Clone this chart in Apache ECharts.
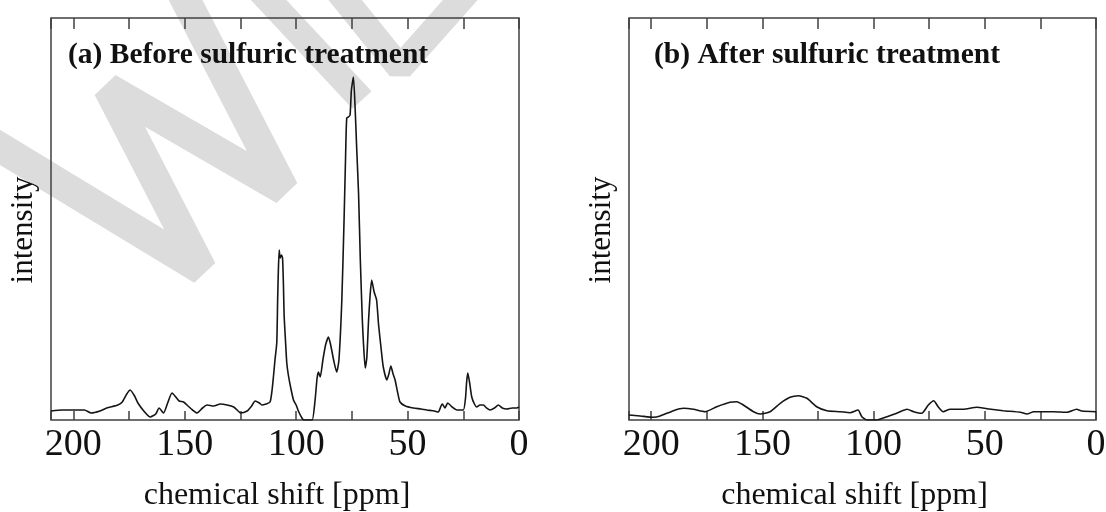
<!DOCTYPE html>
<html>
<head>
<meta charset="utf-8">
<script src="https://cdn.jsdelivr.net/npm/echarts@6/dist/echarts.min.js"></script>
<style>
  html, body { margin: 0; padding: 0; background: #fff; }
  #chart { width: 1106px; height: 512px; }
</style>
</head>
<body>
<div id="chart"></div>
<script>
// chemical shift (ppm) and intensity (arbitrary units)
var ppmBefore = [210, 205, 200, 195, 192, 188, 185, 180, 178, 176, 174.5, 172.5, 171, 168, 165.5, 163, 161.5, 159.5,
  157.5, 155.7, 154, 152.5, 150.5, 148.5, 146.5, 144.5, 142, 140, 137, 134, 131, 128, 126, 125, 122, 120, 118.4,
  116.5, 115.4, 113.5, 111.7, 110.8, 110.2, 109.5, 108.7, 108.3, 108, 107.6, 107.2, 106.6, 106.1, 105.7, 105.4,
  104.8, 104.2, 103.5, 102.5, 101.2, 100, 99, 97.4, 96.5, 94.5, 92.8, 91.5, 90.6, 90, 89.2, 88, 86.8, 85.5, 84.5,
  83, 81.8, 80.8, 79.5, 78.5, 77.8, 77.3, 76.5, 75.8, 75.2, 74.3, 73.5, 72.8, 72, 71.2, 70.3, 69.8, 69, 68.3, 67.5,
  66.8, 66.1, 65, 63.9, 63, 61.8, 60.9, 59.3, 58.4, 57.5, 56.5, 55.6, 54.5, 53.4, 51, 47.4, 44, 41.4, 38, 36.2, 35,
  34.4, 33.2, 32, 30, 27.9, 25, 24, 23.5, 23, 22.2, 21.2, 20, 19, 17.5, 16, 14.5, 13, 11, 9.3, 7.5, 5.5, 3, 1, 0];
var intensityBefore = [9, 10, 10, 10, 7, 9, 12, 15, 18, 26, 30, 24, 17, 8, 3, 6, 12, 7,
  18, 27, 23, 19, 18, 14, 10, 7, 12, 15, 14, 16, 15, 13, 9, 7, 9, 14, 19,
  17, 15, 16, 18, 30, 43, 60, 77, 120, 148, 170, 162, 165, 162, 135, 105,
  80, 57, 45, 33, 20, 15, 9, 2, 0, 0, 0, 20, 42, 48, 43, 60, 75, 83, 75,
  58, 48, 60, 120, 200, 265, 302, 303, 305, 330, 343, 310, 270, 227, 160, 100, 77, 52, 62, 100,
  125, 140, 128, 120, 95, 70, 53, 40, 46, 54, 46, 40, 28, 18, 14, 12, 11, 10, 9, 8, 14,
  16, 12, 17, 13, 10, 10, 22, 38, 47, 38, 23, 16, 13, 15, 15, 12, 10, 12, 15, 12, 11, 12, 12, 13];

var ppmAfter = [210, 205, 199, 196, 190, 185.5, 181, 175.8, 170.5, 164.6, 161.5, 158.6, 154, 151, 146.6, 142,
  137.6, 133.8, 130, 125.6, 121, 115, 110.6, 107, 105.3, 103, 98.6, 94, 89.6, 85, 82, 78.4, 75.4, 73, 71, 68.7,
  65.6, 59.7, 53.6, 49, 41.7, 34, 31, 28, 19, 13, 8.7, 6.4, 0];
var intensityAfter = [5, 4, 2.7, 4, 9.3, 11.7, 10.7, 8.3, 13.3, 17.7, 18.3, 15, 8.3, 6, 8.3, 16.7,
  22.7, 24.3, 21.7, 13.3, 9.3, 8.3, 7.3, 10, 3.3, 0, 0, 3.3, 6.7, 10.7, 8.3, 6.7, 15, 19.3, 13.3, 8.3,
  10.7, 10.7, 12.7, 11.3, 9.3, 7.7, 6, 8.3, 8.3, 7.7, 10.7, 9, 8.3];

var tickLabels = [200, 150, 100, 50, 0];
var panelTitles = ['(a) Before sulfuric treatment', '(b) After sulfuric treatment'];

(function () {
  var chart = echarts.init(document.getElementById('chart'));
  var serif = 'Liberation Serif, Times New Roman, serif';
  var frame = '#404040';

  function pairs(xs, ys) {
    return xs.map(function (x, i) { return [x, ys[i]]; });
  }

  function xAxisFor(grid, top) {
    return {
      type: 'value', gridIndex: grid, position: top ? 'top' : 'bottom',
      min: 0, max: 210, interval: 25, inverse: true,
      axisLine: { show: false },
      axisTick: { show: true, inside: true, length: top ? 11 : 9, lineStyle: { color: frame, width: 1.5 } },
      splitLine: { show: false },
      axisLabel: top ? { show: false } : {
        show: true, margin: 6, fontFamily: serif, fontSize: 38, color: '#111',
        formatter: function (v) { return tickLabels.indexOf(v) >= 0 ? String(v) : ''; }
      },
      name: top ? '' : 'chemical shift [ppm]',
      nameLocation: 'middle', nameGap: 60,
      nameTextStyle: { fontFamily: serif, fontSize: 32, color: '#111', padding: [0, 16, 0, 0] }
    };
  }

  function yAxisFor(grid) {
    return {
      type: 'value', gridIndex: grid, min: 0, max: 402,
      axisLine: { show: false }, axisTick: { show: false },
      axisLabel: { show: false }, splitLine: { show: false },
      name: 'intensity', nameLocation: 'middle', nameGap: 12,
      nameTextStyle: { fontFamily: serif, fontSize: 31, color: '#111', padding: [0, 22, 0, 0] }
    };
  }

  function wm(points, width) {
    return {
      type: 'polyline', z: 0, silent: true,
      shape: { points: points },
      style: { stroke: '#dcdcdc', lineWidth: width, lineJoin: 'bevel', fill: null }
    };
  }

  var lineStyle = { color: '#151515', width: 1.6 };
  var titleStyle = { fontFamily: serif, fontWeight: 'bold', fontSize: 29.5, color: '#111' };

  chart.setOption({
    animation: false,
    backgroundColor: '#fff',
    title: [
      { text: panelTitles[0], left: 63, top: 35, textStyle: titleStyle },
      { text: panelTitles[1], left: 649, top: 35, textStyle: titleStyle }
    ],
    grid: [
      { left: 51, right: 587, top: 18, bottom: 92, outerBoundsMode: 'none', containLabel: false,
        show: true, borderColor: frame, borderWidth: 1.5, z: 3 },
      { left: 629, right: 10, top: 18, bottom: 92, outerBoundsMode: 'none', containLabel: false,
        show: true, borderColor: frame, borderWidth: 1.5, z: 3 }
    ],
    xAxis: [xAxisFor(0, false), xAxisFor(0, true), xAxisFor(1, false), xAxisFor(1, true)],
    yAxis: [yAxisFor(0), yAxisFor(1)],
    graphic: [
      // faint diagonal watermark behind the left panel
      wm([[-60, 111], [202, 270], [108, 88], [284, 190], [170, -30]], 30),
      wm([[250, -20], [362, 100]], 26),
      wm([[325, -25], [400, 68], [478, -20]], 26)
    ],
    series: [
      { type: 'line', xAxisIndex: 0, yAxisIndex: 0, data: pairs(ppmBefore, intensityBefore),
        showSymbol: false, smooth: 0.2, lineStyle: lineStyle, z: 5 },
      { type: 'line', xAxisIndex: 2, yAxisIndex: 1, data: pairs(ppmAfter, intensityAfter),
        showSymbol: false, smooth: 0.2, lineStyle: lineStyle, z: 5 }
    ]
  });
})();
</script>
</body>
</html>
